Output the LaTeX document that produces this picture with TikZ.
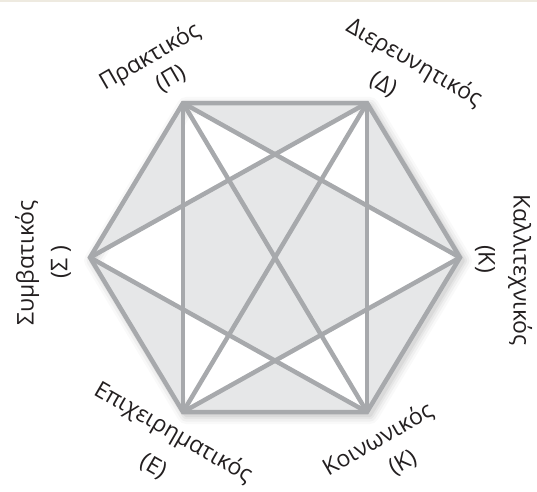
\documentclass[tikz,border=0pt]{standalone}
\usepackage{fontspec}
\setmainfont{Open Sans}
\usepackage{tikz}
\definecolor{hexgray}{HTML}{E6E7E8}
\definecolor{hexline}{HTML}{A7A9AC}
\definecolor{topband}{HTML}{EEEAE0}
\definecolor{ink}{HTML}{231F20}
\tikzstyle{edge} = [hexline, line width=4.5pt]
\tikzstyle{lbl} = [font=\fontsize{23}{27}\selectfont, text=ink, inner sep=0pt]

\begin{document}
\begin{tikzpicture}[x=1pt, y=1pt]
    \useasboundingbox (0,0) rectangle (537,491);
    \fill[topband] (0,489) rectangle (537,491);

    % corners of the hexagon
    \coordinate (pra) at (183,388);
    \coordinate (die) at (367,388);
    \coordinate (kal) at (460,233.5);
    \coordinate (koi) at (367,79);
    \coordinate (epi) at (183,79);
    \coordinate (sym) at (90,233.5);

    % soft shadow
    \foreach \w/\o in {18/0.025, 13/0.035, 8/0.045, 4/0.05}
      \draw[black, opacity=\o, line width=\w pt, line join=round]
        (186,385) -- (370,385) -- (463,230.5) -- (370,76) -- (186,76) -- (93,230.5) -- cycle;

    % grey body, star tips left white
    \fill[hexgray, even odd rule]
      (pra) -- (die) -- (kal) -- (koi) -- (epi) -- (sym) -- cycle
      (pra) -- (kal) -- (epi) -- cycle
      (die) -- (koi) -- (sym) -- cycle;

    \foreach \a/\b in {pra/epi, die/koi, pra/kal, kal/epi, die/sym, sym/koi, pra/koi, die/epi}
      \draw[edge] (\a) -- (\b);
    \draw[edge, line join=miter] (pra) -- (die) -- (kal) -- (koi) -- (epi) -- (sym) -- cycle;

    % labels
    \foreach \id/\ang/\nx/\ny/\word/\lx/\ly/\ltr in {
        praN/30/150/434/Πρακτικός/171/412/Π,
        dieN/-30/414/428/Διερευνητικός/383/406/Δ,
        kalN/-90/520/221/Καλλιτεχνικός/485/232/Κ,
        koiN/30/378/51/Κοινωνικός/403/28/Κ,
        epiN/-30/173/58/Επιχειρηματικός/153/24/Ε,
        symN/90/27/228/Συμβατικός/61/229/Σ
      }{
        \node[lbl, rotate=\ang] (\id) at (\nx,\ny) {\word};
        \node[lbl, rotate=\ang] (\id-l) at (\lx,\ly) {(\ltr)};
      }
\end{tikzpicture}
\end{document}
